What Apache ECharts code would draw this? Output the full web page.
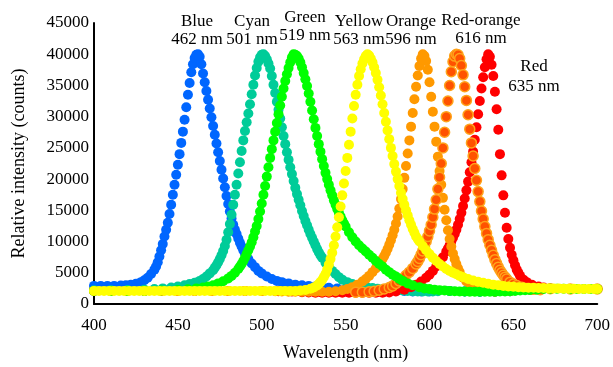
<!DOCTYPE html>
<html>
<head>
<meta charset="utf-8">
<script src="https://cdn.jsdelivr.net/npm/echarts@6/dist/echarts.min.js"></script>
<style>
  html, body { margin: 0; padding: 0; background: #fff; }
  #chart { width: 613px; height: 367px; }
</style>
</head>
<body>
<div id="chart"></div>
<script>
// peak names and wavelengths (nm)
const names = ['Blue', 'Cyan', 'Green', 'Yellow', 'Orange', 'Red-orange', 'Red']
const peaks = [462, 501, 519, 563, 596, 616, 635]

// spectra: [wavelength nm, counts]
const blue = [[400,2900],[404,2900],[408,2900],[412,2900],[416,2950],[419,3000],[422,3100],[425,3250],[428,3500],[430,3800],[432,4200],[434,4800],[436,5500],[437,6000],[438,6700],[439,7600],[440,8600],[441,9600],[442,10800],[443,11900],[444,13000],[445,14400],[446,15900],[447,17500],[448,19100],[449,20700],[450,22300],[451,24000],[452,25800],[453,27600],[454,29500],[455,31500],[456,33500],[457,35400],[458,37100],[459,38400],[460,39400],[461,39900],[462,40000],[463,39600],[464,38400],[465,36900],[466,35500],[467,34100],[468,32700],[469,31300],[470,29900],[471,28500],[472,27100],[473,25700],[474,24300],[475,22900],[476,21500],[477,20100],[478,18700],[479,17300],[480,16000],[481,14800],[482,13700],[483,12700],[484,11900],[485,11200],[486,10500],[487,9800],[488,9200],[489,8600],[490,8100],[492,7200],[494,6500],[496,5900],[498,5300],[500,4900],[503,4400],[506,4000],[509,3700],[512,3500],[516,3300],[520,3100],[524,3000],[528,2900],[532,2800],[536,2700],[540,2600],[545,2500],[550,2400],[555,2350],[560,2300],[565,2250],[570,2200],[575,2150],[580,2100],[585,2100],[590,2000],[595,2000],[600,2000],[612,2100],[621,2000],[630,1950],[639,1950],[648,2050],[660,2250],[672,2450],[684,2400],[700,2400]]

const cyan = [[400,2200],[410,2200],[420,2250],[430,2300],[436,2400],[441,2500],[446,2650],[450,2800],[454,3000],[457,3200],[460,3400],[463,3700],[465,4000],[467,4400],[469,4900],[471,5400],[472,5800],[473,6200],[474,6700],[475,7200],[476,7800],[477,8500],[478,9300],[479,10300],[480,11500],[481,12800],[482,14300],[483,15900],[484,17500],[485,19100],[486,20900],[487,22700],[488,24500],[489,26200],[490,27700],[491,29100],[492,30500],[493,32000],[494,33600],[495,35100],[496,36600],[497,37800],[498,38800],[499,39500],[500,39900],[501,40000],[502,39700],[503,39200],[504,38500],[505,37700],[506,36500],[507,35100],[508,33800],[509,32400],[510,31100],[511,29700],[512,28300],[513,26900],[514,25600],[515,24300],[516,23100],[517,21900],[518,20800],[519,19700],[520,18600],[521,17600],[522,16700],[523,15800],[524,14900],[525,14100],[526,13300],[527,12600],[528,11900],[529,11200],[530,10600],[531,10000],[532,9400],[533,8800],[534,8300],[535,7800],[536,7400],[538,6600],[540,5900],[542,5300],[544,4800],[546,4300],[548,3900],[551,3500],[554,3200],[557,2950],[560,2800],[563,2650],[566,2550],[569,2450],[572,2350],[575,2300],[578,2250],[581,2200],[584,2150],[587,2100],[590,2050],[593,2000],[596,2000],[599,2000],[602,2000],[605,2050],[612,2100],[621,2000],[630,1950],[639,1950],[648,2050],[660,2250],[672,2450],[684,2400],[700,2400]]

const red = [[400,2100],[410,2100],[420,2100],[430,2100],[440,2100],[450,2100],[460,2100],[470,2100],[480,2100],[490,2100],[500,2100],[510,2050],[518,2000],[524,1900],[528,1850],[532,1800],[536,1800],[540,1800],[544,1800],[548,1800],[552,1800],[556,1800],[560,1800],[564,1800],[568,1800],[572,1800],[576,1850],[580,2000],[585,2300],[589,2700],[592,3100],[595,3600],[598,4200],[600,4700],[602,5300],[604,6000],[606,6700],[608,7500],[610,8400],[611,8900],[612,9400],[613,10000],[614,10600],[615,11200],[616,11900],[617,12700],[618,13600],[619,14600],[620,15700],[621,16900],[622,18200],[623,19600],[624,21100],[625,22700],[626,24400],[627,26300],[628,28300],[629,30400],[630,32500],[631,34500],[632,36300],[633,37900],[634,39200],[635,40000],[636,39600],[637,38300],[638,36500],[639,34000],[640,31200],[641,27900],[642,24000],[643,20600],[644,17400],[645,14600],[646,12200],[647,10400],[648,9000],[649,7900],[650,7000],[651,6200],[652,5500],[653,5000],[654,4500],[656,3900],[658,3500],[661,3100],[665,2800],[668,2650],[672,2450],[684,2400],[700,2400]]

const orange = [[400,2100],[410,2100],[420,2100],[430,2100],[440,2100],[450,2100],[460,2100],[470,2100],[480,2100],[490,2100],[500,2100],[508,2050],[512,2000],[516,1950],[520,1950],[524,1950],[528,1950],[532,1950],[536,1950],[540,1950],[544,2050],[548,2200],[551,2400],[554,2700],[557,3100],[560,3600],[562,4000],[564,4500],[566,5100],[568,5700],[570,6400],[572,7200],[573,7700],[574,8200],[575,8800],[576,9500],[577,10200],[578,11000],[579,11900],[580,12900],[581,14000],[582,15300],[583,16800],[584,18400],[585,20200],[586,22100],[587,24100],[588,26200],[589,28400],[590,30600],[591,32800],[592,34800],[593,36600],[594,38100],[595,39300],[596,40000],[597,39700],[598,38900],[599,37500],[600,35500],[601,33200],[602,30800],[603,28400],[604,26000],[605,23600],[606,21300],[607,19100],[608,17000],[609,15100],[610,13400],[611,11800],[612,10400],[613,9200],[614,8100],[615,7200],[616,6400],[617,5700],[618,5100],[620,4200],[622,3600],[624,3200],[626,2900],[629,2600],[632,2400],[636,2200],[639,1950],[648,2050],[660,2250],[672,2450],[684,2400],[700,2400]]

const redOrange = [[556,1900],[560,1900],[564,1950],[567,2050],[570,2200],[573,2400],[576,2650],[578,2900],[580,3300],[582,3700],[584,4100],[586,4600],[588,5100],[590,5700],[592,6400],[593,6800],[594,7300],[595,7900],[596,8500],[597,9200],[598,10000],[599,10800],[600,11700],[601,12700],[602,13900],[603,15200],[604,16700],[605,18400],[606,20300],[607,22500],[608,25000],[609,27500],[610,30000],[611,32500],[612,35000],[613,37200],[614,38800],[615,39700],[616,40000],[617,39900],[618,39300],[619,38200],[620,36700],[621,34800],[622,32600],[623,30300],[624,28000],[625,25800],[626,23700],[627,21700],[628,19800],[629,18000],[630,16400],[631,14900],[632,13600],[633,12400],[634,11300],[635,10300],[636,9400],[637,8600],[638,7800],[639,7100],[640,6500],[641,5900],[642,5400],[643,5000],[644,4600],[645,4300],[646,4000],[648,3500],[650,3200],[652,2950],[655,2700],[658,2500],[662,2350],[666,2300],[672,2450],[684,2400],[700,2400]]

const green = [[400,2100],[410,2100],[420,2100],[430,2100],[440,2150],[450,2250],[456,2350],[461,2500],[465,2650],[468,2800],[471,3000],[474,3300],[477,3650],[480,4100],[482,4500],[484,5000],[486,5600],[487,6000],[488,6400],[489,6900],[490,7400],[491,8000],[492,8600],[493,9200],[494,9900],[495,10700],[496,11600],[497,12500],[498,13600],[499,14800],[500,16100],[501,17500],[502,18900],[503,20400],[504,21900],[505,23400],[506,24800],[507,26200],[508,27600],[509,29000],[510,30400],[511,31800],[512,33200],[513,34500],[514,35700],[515,36800],[516,37800],[517,38700],[518,39500],[519,40000],[520,39900],[521,39700],[522,39300],[523,38700],[524,37900],[525,37000],[526,36000],[527,34900],[528,33700],[529,32400],[530,31000],[531,29600],[532,28200],[533,26900],[534,25600],[535,24400],[536,23200],[537,22100],[538,21000],[539,20000],[540,19100],[541,18200],[542,17400],[543,16600],[544,15900],[545,15200],[546,14600],[547,14000],[548,13400],[549,12900],[550,12400],[552,11500],[554,10700],[556,10000],[558,9400],[560,8900],[562,8400],[564,7900],[566,7400],[568,6900],[570,6400],[572,6000],[574,5500],[576,5100],[578,4700],[580,4400],[582,4000],[584,3700],[587,3300],[590,3000],[594,2700],[597,2500],[600,2400],[603,2300],[606,2200],[609,2150],[612,2100],[615,2050],[618,2000],[621,2000],[624,1950],[627,1950],[630,1950],[633,1950],[636,1950],[639,1950],[642,2000],[645,2000],[648,2050],[651,2100],[654,2150],[657,2200],[660,2250],[664,2300],[668,2400],[672,2450],[676,2450],[680,2450],[684,2400],[688,2400],[692,2400],[696,2400],[700,2400]]

const yellow = [[400,2100],[403,2100],[406,2100],[409,2100],[412,2100],[415,2100],[418,2100],[421,2100],[424,2100],[427,2100],[430,2100],[433,2100],[436,2100],[439,2100],[442,2100],[445,2100],[448,2100],[451,2100],[454,2100],[457,2100],[460,2100],[463,2100],[466,2100],[469,2100],[472,2100],[475,2100],[478,2100],[481,2100],[484,2100],[487,2100],[490,2100],[493,2100],[496,2100],[499,2100],[502,2100],[505,2100],[508,2100],[511,2100],[514,2100],[517,2100],[520,2100],[523,2150],[526,2250],[529,2450],[531,2650],[533,2950],[534,3200],[535,3500],[536,3850],[537,4300],[538,4800],[539,5500],[540,6300],[541,7200],[542,8200],[543,9400],[544,10800],[545,12300],[546,13900],[547,15600],[548,17400],[549,19300],[550,21300],[551,23400],[552,25500],[553,27600],[554,29700],[555,31700],[556,33500],[557,35100],[558,36500],[559,37600],[560,38500],[561,39200],[562,39700],[563,40000],[564,39800],[565,39300],[566,38700],[567,37900],[568,37000],[569,35900],[570,34700],[571,33400],[572,32000],[573,30600],[574,29200],[575,27800],[576,26400],[577,25000],[578,23700],[579,22400],[580,21200],[581,20000],[582,18900],[583,17800],[584,16800],[585,15900],[586,15000],[587,14200],[588,13400],[589,12700],[590,12000],[591,11400],[592,10800],[593,10400],[594,10000],[596,9300],[598,8600],[600,8000],[602,7400],[604,6900],[606,6400],[608,6000],[610,5600],[612,5300],[614,5000],[616,4750],[618,4500],[620,4300],[623,4000],[626,3750],[629,3550],[632,3400],[635,3250],[638,3100],[641,3000],[644,2900],[647,2800],[650,2750],[653,2700],[656,2650],[659,2600],[662,2600],[665,2550],[668,2550],[671,2500],[674,2500],[677,2500],[680,2450],[683,2450],[686,2450],[689,2400],[692,2400],[695,2400],[698,2400],[700,2400]]

// tick values
const xTicks = { min: 400, max: 700, step: 50 }
const yTicks = { min: 0, max: 45000, step: 5000 }

// draw order: later series sit on top
const seriesList = [
  { key: 'Blue', data: blue, color: '#0066ff' },
  { key: 'Cyan', data: cyan, color: '#00cc99' },
  { key: 'Red', data: red, color: '#ff0000' },
  { key: 'Orange', data: orange, color: '#ff9900' },
  { key: 'Red-orange', data: redOrange, color: '#ff5200', border: '#ffa31a' },
  { key: 'Green', data: green, color: '#00ff00' },
  { key: 'Yellow', data: yellow, color: '#ffff00' }
]

// label anchor (px) for each peak name, same order as names
const labelPos = [[197, 13], [252, 13], [305, 9], [359, 13], [411, 13], [481, 12], [534, 57]]

const font = 'Liberation Serif, Times New Roman, serif'
const chart = echarts.init(document.getElementById('chart'), null, { renderer: 'canvas' })

const option = {
  animation: false,
  backgroundColor: '#fff',
  grid: { left: 94, right: 15, top: 23, bottom: 59 },
  xAxis: {
    type: 'value',
    min: xTicks.min,
    max: xTicks.max,
    interval: xTicks.step,
    name: 'Wavelength (nm)',
    nameLocation: 'middle',
    nameGap: 40,
    nameTextStyle: { fontFamily: font, fontSize: 18, color: '#000' },
    axisLine: { lineStyle: { color: '#000', width: 2 } },
    axisTick: { show: false },
    splitLine: { show: false },
    axisLabel: { fontFamily: font, fontSize: 17, color: '#000', margin: 13 }
  },
  yAxis: {
    type: 'value',
    min: yTicks.min,
    max: yTicks.max,
    interval: yTicks.step,
    name: 'Relative intensity (counts)',
    nameLocation: 'middle',
    nameGap: 66,
    nameTextStyle: { fontFamily: font, fontSize: 18, color: '#000' },
    axisLine: { show: true, lineStyle: { color: '#000', width: 2 } },
    axisTick: { show: false },
    splitLine: { show: false },
    axisLabel: {
      fontFamily: font, fontSize: 17, color: '#000', margin: 5,
      formatter: v => String(v)
    }
  },
  series: seriesList.map(s => ({
    name: s.key,
    type: 'scatter',
    symbol: 'circle',
    symbolSize: 10,
    data: s.data,
    itemStyle: {
      color: s.color,
      opacity: 1,
      borderColor: s.border || s.color,
      borderWidth: s.border ? 1.5 : 0
    },
    emphasis: { disabled: true }
  })),
  graphic: names.map((n, i) => ({
    type: 'text',
    x: labelPos[i][0],
    y: labelPos[i][1],
    style: {
      text: n + '\n' + peaks[i] + ' nm',
      fontFamily: font,
      fontSize: 17,
      lineHeight: i === 6 ? 20 : 18,
      fill: '#000',
      align: 'center',
      verticalAlign: 'top'
    }
  }))
}

chart.setOption(option)
</script>
</body>
</html>
